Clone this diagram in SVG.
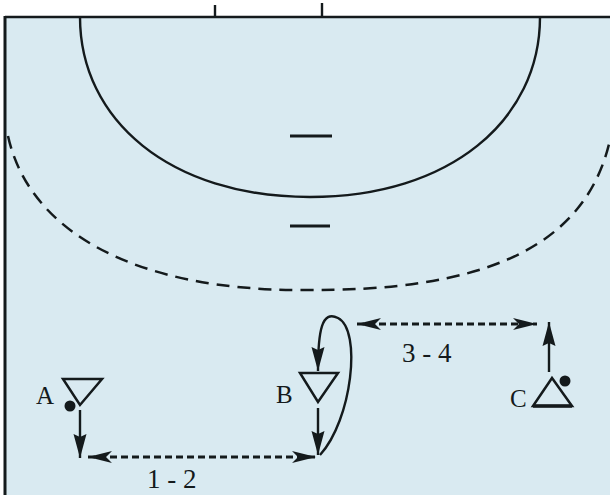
<svg xmlns="http://www.w3.org/2000/svg" width="610" height="495" viewBox="0 0 610 495">
<defs>
<style>
.ln{fill:none;stroke:#141a1c;stroke-width:2.4}
.dash{fill:none;stroke:#141a1c;stroke-width:2.5;stroke-dasharray:13 8}
.pass{fill:none;stroke:#141a1c;stroke-width:2.8;stroke-dasharray:7 4}
.tri{fill:none;stroke:#141a1c;stroke-width:2.5;stroke-linejoin:miter}
.lbl{font-family:"Liberation Serif","Times New Roman",serif;font-size:25px;fill:#141a1c}
.num{font-family:"Liberation Serif","Times New Roman",serif;font-size:27px;fill:#141a1c}
.ball{fill:#141a1c}
</style>
<marker id="ah" markerUnits="userSpaceOnUse" markerWidth="26" markerHeight="14" refX="24" refY="7" orient="auto">
<path d="M0,0.5 L24,7 L0,13.5 L3,7 z" fill="#141a1c"/>
</marker>
<marker id="dh" markerUnits="userSpaceOnUse" markerWidth="26" markerHeight="14" refX="24" refY="7" orient="auto-start-reverse">
<path d="M0,1 L24,7 L0,13 L6,7 z" fill="#141a1c"/>
</marker>
</defs>
<rect x="0" y="0" width="610" height="495" fill="#ffffff"/>
<rect x="5" y="17" width="605" height="478" fill="#d9eaf1"/>
<g id="court">
<line x1="5" y1="17" x2="610" y2="17" class="ln"/>
<line x1="5" y1="16" x2="5" y2="495" stroke="#141a1c" stroke-width="3"/>
<line x1="215" y1="5" x2="215" y2="17" class="ln"/>
<line x1="322" y1="3" x2="322" y2="17" class="ln"/>
<path d="M80,17 C80,120 170,197 310,197 C450,197 540,120 540,17" class="ln"/>
<path d="M8,136 C30,235 140,290 300,290 C480,292 585,250 610,140" class="dash"/>
<line x1="290" y1="136" x2="332" y2="136" stroke="#141a1c" stroke-width="3"/>
<line x1="290" y1="226" x2="330" y2="226" stroke="#141a1c" stroke-width="3"/>
</g>
<g id="player-a">
<path d="M63,379 L102,379 L80,405 z" class="tri"/>
<circle cx="70" cy="406" r="5.5" class="ball"/>
<text x="36" y="404" class="lbl">A</text>
</g>
<g id="player-b">
<path d="M300,373 L338,373 L318,402 z" class="tri"/>
<text x="276" y="403" class="lbl">B</text>
</g>
<g id="player-c">
<path d="M533,406 L572,406 L552,378 z" class="tri"/>
<line x1="533" y1="406" x2="572" y2="406" stroke="#141a1c" stroke-width="3.4"/>
<circle cx="565" cy="381" r="5.5" class="ball"/>
<text x="510" y="407" class="lbl">C</text>
</g>
<g id="connectors">
<line x1="80" y1="410" x2="80" y2="458" class="ln" marker-end="url(#ah)"/>
<line x1="318" y1="408" x2="318" y2="455" class="ln" marker-end="url(#ah)"/>
<path d="M320,455 C352,420 362,330 338,318 C322,310 318,330 318,371" class="ln" marker-end="url(#ah)"/>
<line x1="549" y1="372" x2="549" y2="322" class="ln" marker-end="url(#ah)"/>
<line x1="88" y1="457" x2="316" y2="457" class="pass" marker-start="url(#dh)" marker-end="url(#dh)"/>
<line x1="357" y1="324" x2="537" y2="324" class="pass" marker-start="url(#dh)" marker-end="url(#dh)"/>
<text x="147" y="488" class="num">1 - 2</text>
<text x="402" y="362" class="num">3 - 4</text>
</g>
</svg>
